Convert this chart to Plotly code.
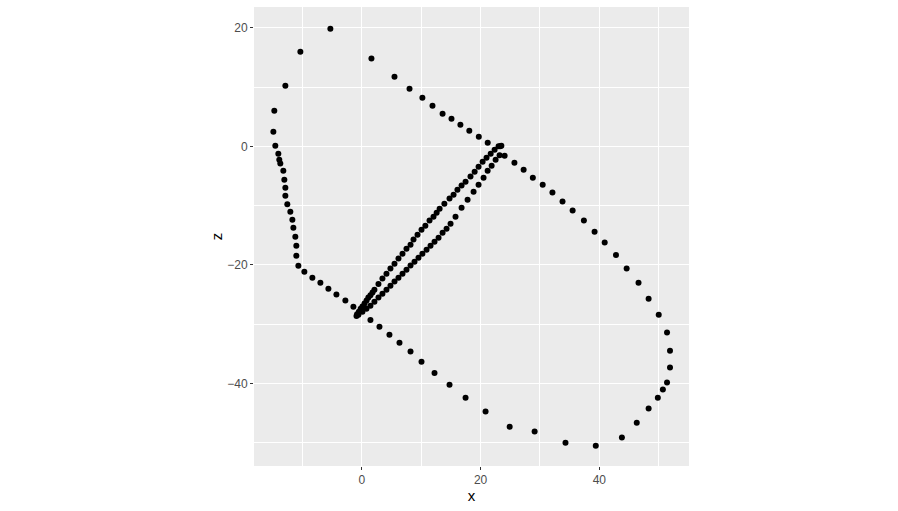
import plotly.graph_objects as go

# Outer trajectory
outer_x = [-5.3, -10.35, -12.88, -14.74, -14.9, -14.57, -14.06, -13.9, -13.73, -13.22, -13.05, -12.88,
           -12.88, -12.55, -12.04, -11.7, -11.53, -11.2, -11.03, -11.03, -10.69, -9.68, -8.33, -6.98,
           -5.63, -4.28, -2.77, -1.42, -0.9,
           1.45, 2.97, 4.65, 6.34, 8.2, 10.05, 12.24, 14.77, 17.47, 20.84, 24.9, 29.1, 34.3, 39.4,
           43.8, 46.3, 48.3, 49.85, 50.7, 51.4, 51.9, 51.9, 51.4, 50.0, 48.3, 46.6, 44.6, 42.8, 40.9,
           39.2, 37.4, 35.5, 33.8, 32.1, 30.46, 28.8, 27.25, 25.7, 24.05, 23.3,
           21.2, 19.7, 18.1, 16.6, 15.1, 13.6, 11.9, 10.2, 8.03, 5.5, 1.62]
outer_z = [19.85, 15.97, 10.23, 6.02, 2.48, 0.12, -1.23, -2.24, -2.9, -4.1, -5.62, -6.97,
           -8.32, -9.78, -11.02, -12.36, -13.71, -15.23, -16.75, -18.43, -20.12, -21.13, -22.14, -22.99,
           -24.0, -25.0, -26.0, -27.03, -28.6,
           -29.3, -30.4, -31.75, -33.1, -34.6, -36.3, -38.2, -40.2, -42.4, -44.7, -47.3, -48.1, -49.96, -50.5,
           -49.1, -46.6, -44.2, -42.4, -41.0, -39.8, -37.3, -34.45, -31.4, -28.4, -25.7, -23.0, -20.6, -18.3, -16.2,
           -14.4, -12.5, -10.8, -9.3, -7.8, -6.46, -5.28, -3.93, -2.75, -1.57, 0.0,
           0.62, 1.64, 2.65, 3.66, 4.67, 5.5, 6.86, 8.2, 9.73, 11.75, 14.8]

# Inner loop, lower-right branch
lower_x = [23.2, 22.53, 21.86, 21.19, 20.5, 19.66, 18.82, 17.81, 16.8, 15.78, 14.94, 14.27, 13.6,
           12.92, 12.24, 11.57, 10.9, 10.2, 9.54, 8.87, 8.2, 7.52, 6.85, 6.17, 5.5, 4.82, 4.15,
           3.47, 2.8, 2.12, 1.45, 0.78, 0.1, -0.57]
lower_z = [-1.5, -2.24, -3.26, -4.1, -5.28, -6.46, -7.64, -8.99, -10.34, -11.86, -13.04, -13.88, -14.55,
           -15.4, -16.07, -16.75, -17.42, -18.1, -18.77, -19.44, -20.1, -20.8, -21.47, -22.14, -22.8, -23.5, -24.2,
           -24.84, -25.5, -26.2, -26.86, -27.37, -27.9, -28.4]

# Inner loop, upper-left branch
upper_x = [-0.8, -0.5, -0.2, 0.1, 0.45, 0.8, 1.1, 1.45, 1.8, 2.12, 2.8, 3.47, 4.15, 4.82, 5.5, 6.17,
           6.85, 7.52, 8.2, 8.7, 9.38, 10.05, 10.7, 11.4, 12.07, 12.6, 13.1, 13.9, 14.77, 15.45, 16.1,
           16.8, 17.47, 18.3, 19.0, 19.66, 20.34, 21.0, 21.7, 22.36, 23.03, 23.5]
upper_z = [-28.3, -27.9, -27.4, -27.0, -26.5, -26.0, -25.5, -25.1, -24.65, -24.2, -23.2, -22.3, -21.5,
           -20.6, -19.8, -18.9, -18.1, -17.25, -16.6, -15.7, -14.9, -14.05, -13.4, -12.5, -11.86, -11.2,
           -10.5, -9.66, -8.8, -8.15, -7.3, -6.6, -5.95, -5.1, -4.27, -3.42, -2.58, -1.9, -1.23, -0.56, 0.0, 0.1]

x_ticks = [0, 20, 40]
z_ticks = [-40, -20, 0, 20]

xs = outer_x + lower_x + upper_x
zs = outer_z + lower_z + upper_z

fig = go.Figure(go.Scatter(x=xs, y=zs, mode="markers",
                           marker=dict(color="black", size=6, line=dict(width=0)),
                           hoverinfo="x+y"))

axis_common = dict(
    showgrid=True, gridcolor="white", gridwidth=1.1,
    zeroline=False, showline=False,
    ticks="outside", ticklen=3, tickwidth=1, tickcolor="#333333",
    tickfont=dict(family="Liberation Sans, Arial, sans-serif", size=12, color="#4D4D4D"),
    minor=dict(showgrid=True, gridcolor="white", gridwidth=0.5, ticks=""),
)

fig.update_layout(
    width=898, height=511,
    margin=dict(l=254, r=209, t=7, b=45),
    paper_bgcolor="white", plot_bgcolor="#EBEBEB",
    showlegend=False,
    font=dict(family="Liberation Sans, Arial, sans-serif"),
    xaxis=dict(range=[-18.16, 55.1], tickvals=x_ticks, minor_dtick=20, minor_tick0=-10,
               title=dict(text="x", font=dict(size=15, color="black"), standoff=4), **axis_common),
    yaxis=dict(range=[-53.9, 23.5], tickvals=z_ticks, minor_dtick=20, minor_tick0=-10,
               title=dict(text="z", font=dict(size=15, color="black"), standoff=0), **axis_common),
)

fig.write_html("out.html", config={"displayModeBar": False},
               post_script="document.body.style.margin='0';document.body.style.overflow='hidden';")
